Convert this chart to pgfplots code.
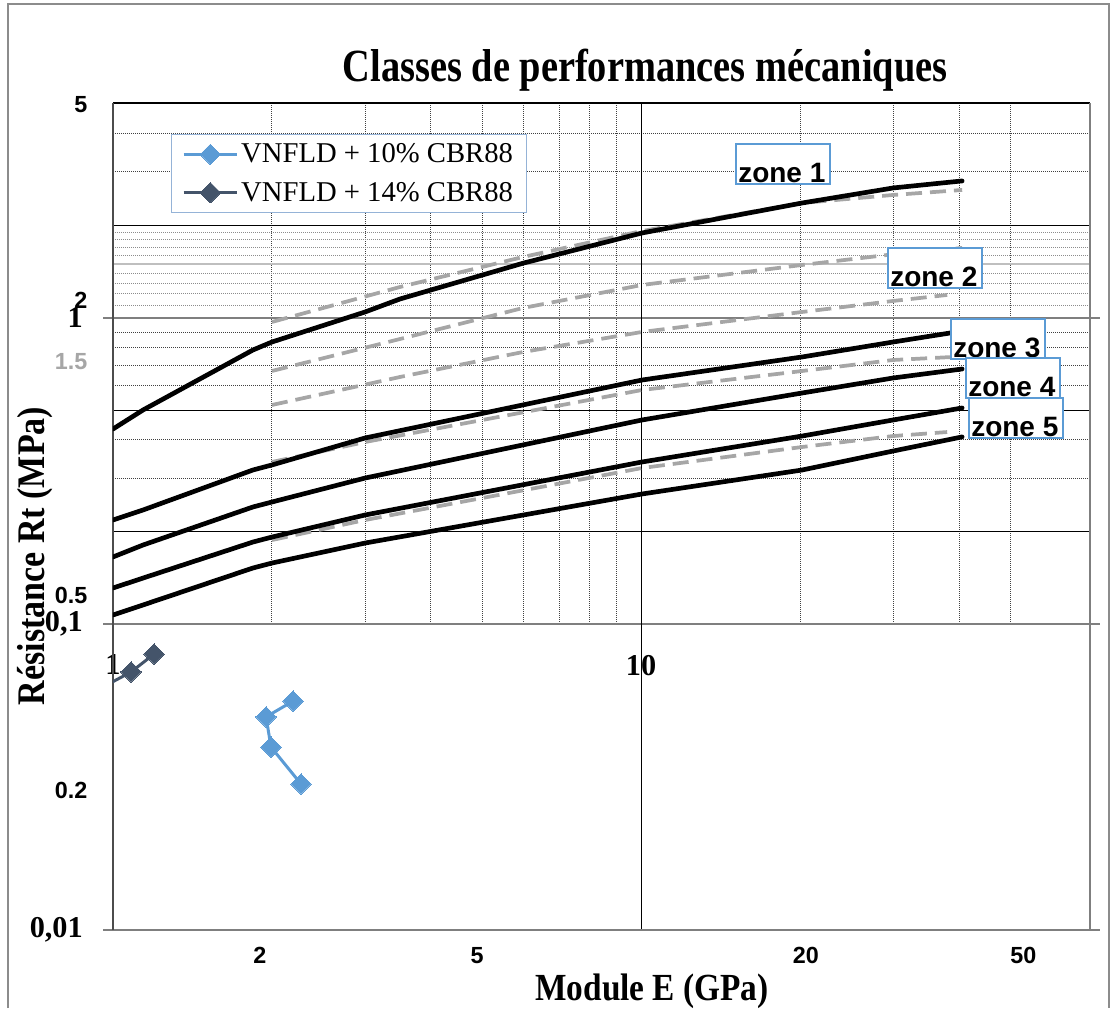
\documentclass[border=0pt]{standalone}
\usepackage{pgfplots}
\pgfplotsset{compat=1.18}
\usepackage{fontspec}
\setmainfont{Liberation Serif}
\newfontfamily\arialf{Liberation Sans}
\definecolor{lightblue}{HTML}{5B9BD5}
\definecolor{darkblue}{HTML}{44546A}
\definecolor{zonegray}{HTML}{A6A6A6}
\definecolor{gridgray}{HTML}{7F7F7F}
\definecolor{legborder}{HTML}{95B3D7}
\definecolor{zoneborder}{HTML}{5B9BD5}
\definecolor{framegray}{HTML}{8C8C8C}
\tikzset{
  zsolid/.style={black, line width=3.5pt, line cap=round, line join=round},
  zdash/.style={zonegray, line width=2.8pt, dash pattern=on 12pt off 6pt},
  griddot/.style={black!75, line width=0.7pt, dash pattern=on 0.75pt off 0.75pt},
  griddotl/.style={black!45, line width=0.7pt, dash pattern=on 0.75pt off 0.75pt},
}
\begin{document}
\begin{tikzpicture}
\path[use as bounding box] (0,0) rectangle (834.75pt,-756pt);
\begin{axis}[
  at={(84.75pt,-697.5pt)}, anchor=south west,
  scale only axis, width=732.75pt, height=620.25pt,
  xmode=log, ymode=log,
  xmin=1, xmax=70.8, ymin=0.01, ymax=5.04,
  clip mode=individual,
  axis line style={draw=none},
  xtick={1,10}, xticklabels={1,10},
  ytick={0.01,0.1,1}, yticklabels={{0,01},{0,1},{1}},
  xtick style={draw=none},
  ytick style={draw=gridgray, line width=1.2pt},
  tick align=outside, major tick length=7.5pt, minor tick length=0pt,
  /pgf/number format/assume math mode=true,
  ticklabel style={font=\fontsize{22.7}{27}\selectfont\bfseries, inner sep=0pt},
  yticklabel style={anchor=east, xshift=-15pt},
  xticklabel style={anchor=north, yshift=214pt},
  legend style={at={(0.0594,0.9625)}, anchor=north west, draw=legborder, line width=0.75pt,
    fill=white, font=\fontsize{21.5}{25}\selectfont, inner xsep=8pt, inner ysep=5pt,
    row sep=9pt, nodes={inner sep=2pt}},
  legend cell align=left,
  legend image code/.code={\draw[mark repeat=2,mark phase=2] plot coordinates {(0pt,0pt) (20pt,0pt) (40pt,0pt)};},
]
% grid of the upper region
\pgfplotsinvokeforeach{2,3,4,5,6,7,8,9,20,30,40,50}{
  \draw[griddot] (axis cs:#1,0.1) -- (axis cs:#1,5.04);
}
\pgfplotsinvokeforeach{0.3,0.4,0.6,0.7,0.8,0.9,3,4}{
  \draw[griddot] (axis cs:1,#1) -- (axis cs:70.8,#1);
}
\pgfplotsinvokeforeach{1.1,1.2,1.3,1.4,1.6,1.7,1.8,1.9}{
  \draw[griddotl] (axis cs:1,#1) -- (axis cs:70.8,#1);
}
\pgfplotsinvokeforeach{0.2,0.5,2}{
  \draw[black, line width=0.75pt] (axis cs:1,#1) -- (axis cs:70.8,#1);
}
\draw[black!25, line width=1.1pt] (axis cs:1,1.5) -- (axis cs:70.8,1.5);
\draw[gridgray, line width=1.2pt] (axis cs:1,0.1) -- (axis cs:70.8,0.1);
\draw[gridgray, line width=1.2pt] (axis cs:1,1) -- (axis cs:70.8,1);
\draw[black, line width=0.75pt] (axis cs:10,0.01) -- (axis cs:10,5.04);
% frame
\draw[black, line width=1.2pt] (axis cs:1,5.04) -- (axis cs:70.8,5.04);
\draw[gridgray, line width=1.5pt] (axis cs:70.8,0.01) -- (axis cs:70.8,5.04);
\draw[gridgray, line width=1.5pt] (axis cs:1,0.01) -- (axis cs:70.8,0.01);
\draw[black!70, line width=1.5pt] (axis cs:1,0.01) -- (axis cs:1,5.04);

% zone boundaries (dashed)
\addplot[zdash, forget plot] coordinates {(2.000,0.9703) (3.496,1.2626) (5.976,1.5823) (10.04,1.9245) (20.18,2.3755) (30.01,2.5232) (40.54,2.6198)};
\addplot[zdash, forget plot] coordinates {(2.000,0.6711) (3.496,0.8538) (5.976,1.0781) (10.04,1.2819) (20.18,1.4901) (29.24,1.6065) (40.54,1.6934)};
\addplot[zdash, forget plot] coordinates {(2.000,0.5196) (3.496,0.6415) (5.976,0.7743) (10.04,0.9001) (20.18,1.0462) (30.01,1.1367) (37.98,1.1891)};
\addplot[zdash, forget plot] coordinates {(2.000,0.3384) (3.002,0.3933) (10.04,0.5817) (20.18,0.6711) (30.01,0.7291) (38.99,0.7458)};
\addplot[zdash, forget plot] coordinates {(2.000,0.1881) (3.002,0.2187) (10.04,0.3234) (20.18,0.3789) (30.01,0.4114) (37.98,0.4239)};
% zone boundaries (solid)
\addplot[zsolid, forget plot] coordinates {(1,0.4337) (1.140,0.5004) (1.841,0.7860) (2.000,0.8346) (3.002,1.0462) (3.496,1.1537) (5.976,1.5100) (10.04,1.8957) (20.18,2.3755) (30.01,2.6600) (40.54,2.8044)};
\addplot[zsolid, forget plot] coordinates {(1,0.2187) (1.140,0.2358) (1.841,0.3186) (2.000,0.3309) (3.002,0.4054) (10.04,0.6271) (20.18,0.7458) (30.01,0.8346) (38.48,0.8932)};
\addplot[zsolid, forget plot] coordinates {(1,0.1656) (1.140,0.1812) (1.841,0.2412) (2.000,0.2504) (3.002,0.2999) (10.04,0.4642) (20.18,0.5687) (30.01,0.6367) (40.54,0.6813)};
\addplot[zsolid, forget plot] coordinates {(1,0.1311) (1.140,0.1413) (1.841,0.1853) (2.000,0.1924) (3.002,0.2271) (10.04,0.3384) (20.18,0.4114) (30.01,0.4642) (40.54,0.5081)};
\addplot[zsolid, forget plot] coordinates {(1,0.1070) (1.140,0.1154) (1.841,0.1524) (2.000,0.1582) (3.002,0.1839) (10.04,0.2660) (20.18,0.3186) (30.01,0.3675) (40.54,0.4087)};

% measured series
\addplot[lightblue, line width=2.25pt, mark=square*, mark size=5.4pt,
  mark options={rotate=45, solid, fill=lightblue, draw=lightblue, line width=0pt}]
  coordinates {(2.193,0.0560) (1.949,0.0497) (1.992,0.0396) (2.270,0.0300)};
\addlegendentry{VNFLD + 10\% CBR88}
\addplot[darkblue, line width=2.25pt, mark=square*, mark size=5.4pt,
  mark options={rotate=45, solid, fill=darkblue, draw=darkblue, line width=0pt}]
  coordinates {(0.9046,0.0591) (1.082,0.0697) (1.196,0.0798)};
\addlegendentry{VNFLD + 14\% CBR88}
\end{axis}

% scale of the pasted zone chart
\begin{axis}[
  at={(84.75pt,-697.5pt)}, anchor=south west,
  scale only axis, width=732.75pt, height=620.25pt,
  xmode=log, ymode=log,
  xmin=1.0765, xmax=66.25, ymin=0.1036, ymax=5.047,
  axis line style={draw=none}, tick style={draw=none},
  major tick length=0pt, minor tick length=0pt,
  xtick={2,5,20,50}, xticklabels={2,5,20,50},
  ytick={0.2,0.5,1.5,2,5}, yticklabels={0.2,0.5,{\color{zonegray}1.5},2,5},
  /pgf/number format/assume math mode=true,
  ticklabel style={font=\arialf\bfseries\fontsize{17.5}{20}\selectfont, inner sep=0pt},
  xticklabel style={anchor=north, yshift=-12.75pt},
  yticklabel style={anchor=east, xshift=-19pt},
]
\end{axis}

\begin{scope}[x=0.75pt,y=-0.75pt]
\draw[framegray, line width=1pt] (8,1008) -- (8,4) -- (1109,4) -- (1109,1008);
\node[font=\fontsize{28.8}{34}\selectfont\bfseries] at (645,70) {\scalebox{1}[1.2]{Classes de performances mécaniques}};
\node[font=\fontsize{25}{30}\selectfont\bfseries] at (652,991) {\scalebox{1}[1.15]{Module E (GPa)}};
\node[rotate=90, font=\fontsize{25.5}{30}\selectfont\bfseries] at (35,556) {\scalebox{1}[1.15]{Résistance Rt (MPa)}};
\foreach \x/\y/\t in {736/144/1, 888/248/2, 951/319/3, 966/358/4, 969/398/5} {
  \draw[zoneborder, line width=1.1pt, fill=white] (\x,\y) rectangle ++(94,40);
  \node[anchor=base west, inner sep=0pt, font=\arialf\bfseries\fontsize{21}{25}\selectfont] at (\x+2,\y+38) {zone \t};
}
\end{scope}
\end{tikzpicture}
\end{document}
